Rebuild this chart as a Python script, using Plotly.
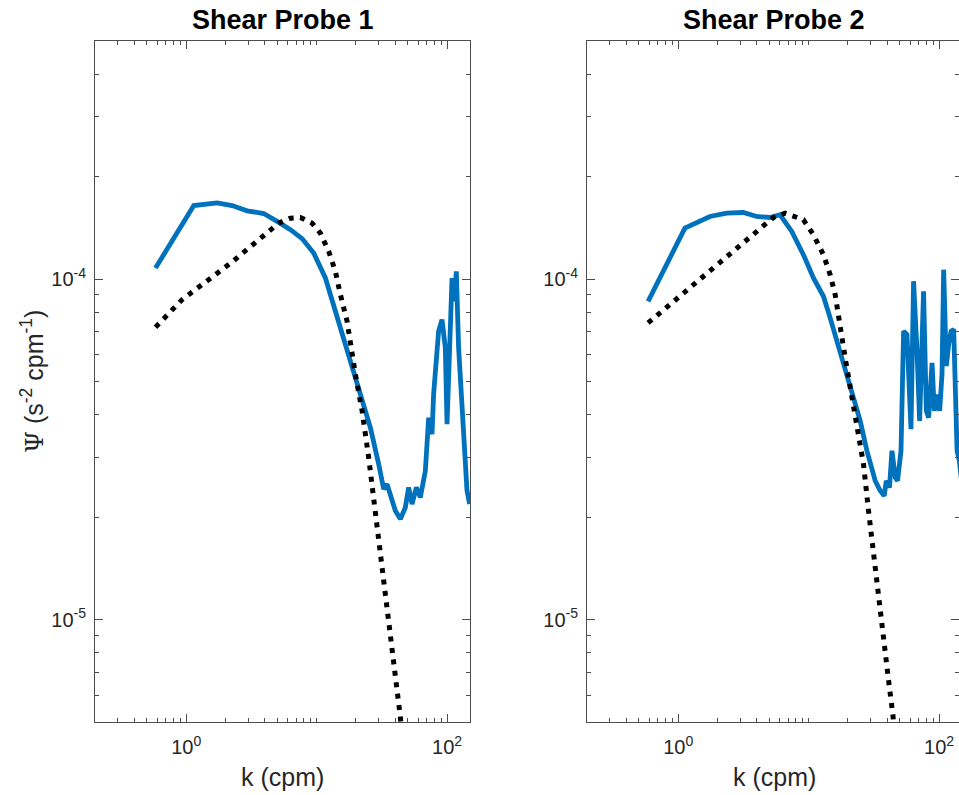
import math
import plotly.graph_objects as go

# ---------------- data ----------------
# Shear probe 1: measured spectrum
k_probe1 = [0.582, 1.144, 1.728, 2.25, 2.93, 3.93, 4.98, 6.30, 7.74, 9.50, 11.68, 13.52,
            16.13, 19.24, 22.33, 25.84, 29.92, 32.68, 34.69, 37.89, 40.16, 43.86, 47.9,
            50.8, 53.9, 58.2, 62.4, 68.2, 72.3, 76.7, 78.9, 83.8, 86.2, 91.5, 97.0, 100.0,
            102.9, 109.2, 113.8, 117.8, 122.7, 126.5, 134.1, 142.3, 149.0]
psi_probe1 = [1.077e-4, 1.643e-4, 1.673e-4, 1.643e-4, 1.586e-4, 1.557e-4, 1.476e-4, 1.396e-4,
              1.314e-4, 1.192e-4, 1.007e-4, 8.32e-5, 6.72e-5, 5.36e-5, 4.38e-5, 3.66e-5,
              2.86e-5, 2.415e-5, 2.497e-5, 2.262e-5, 2.087e-5, 1.972e-5, 2.133e-5, 2.442e-5,
              2.183e-5, 2.442e-5, 2.282e-5, 2.733e-5, 3.915e-5, 3.50e-5, 4.58e-5, 6.14e-5,
              7.03e-5, 7.60e-5, 6.28e-5, 3.745e-5, 5.25e-5, 1.007e-4, 8.60e-5, 1.053e-4,
              6.28e-5, 5.01e-5, 3.58e-5, 2.388e-5, 2.183e-5]

# Shear probe 1: Nasmyth fit
k_nasmyth1 = [0.582, 0.932, 2.185, 5.12, 6.30, 7.51, 9.24, 10.69, 12.38, 13.93, 15.22, 17.13,
              19.83, 22.33, 25.07, 28.22, 31.37, 34.69, 37.89, 43.86, 45.4]
psi_nasmyth1 = [7.22e-5, 8.70e-5, 1.112e-4, 1.459e-4, 1.509e-4, 1.516e-4, 1.459e-4, 1.364e-4,
                1.206e-4, 1.053e-4, 9.00e-5, 7.51e-5, 5.25e-5, 4.10e-5, 2.99e-5, 2.087e-5,
                1.512e-5, 1.112e-5, 8.11e-6, 5.17e-6, 4.42e-6]

# Shear probe 2: measured spectrum
k_probe2 = [0.588, 1.126, 1.752, 2.353, 3.157, 4.00, 5.06, 6.04, 7.43, 9.12, 10.89, 12.99,
            14.63, 17.99, 20.83, 24.86, 27.99, 32.42, 35.42, 38.0, 39.4, 41.7, 43.55, 46.2,
            48.1, 51.1, 53.5, 56.8, 60.95, 63.8, 67.8, 71.0, 76.1, 79.9, 83.2, 88.4, 92.0,
            97.6, 101.1, 105.4, 108.5, 113.8, 118.5, 123.7, 129.5, 137.5, 143.2, 148.0]
psi_probe2 = [8.60e-5, 1.411e-4, 1.526e-4, 1.561e-4, 1.568e-4, 1.526e-4, 1.516e-4, 1.544e-4,
              1.380e-4, 1.179e-4, 1.007e-4, 8.90e-5, 7.69e-5, 5.87e-5, 4.79e-5, 3.83e-5,
              3.13e-5, 2.554e-5, 2.388e-5, 2.308e-5, 2.554e-5, 2.442e-5, 3.13e-5, 2.611e-5,
              2.554e-5, 3.13e-5, 7.03e-5, 6.87e-5, 3.62e-5, 9.85e-5, 6.14e-5, 3.83e-5,
              9.20e-5, 4.10e-5, 3.915e-5, 5.67e-5, 4.10e-5, 4.58e-5, 4.10e-5, 5.25e-5,
              1.065e-4, 5.55e-5, 6.42e-5, 7.03e-5, 7.11e-5, 3.13e-5, 2.92e-5, 2.60e-5]

# Shear probe 2: Nasmyth fit
k_nasmyth2 = [0.588, 2.0, 5.37, 6.60, 9.12, 10.89, 12.99, 14.63, 15.98, 19.06, 21.47, 23.45,
              26.36, 28.80, 31.45, 34.37, 37.54, 41.02, 44.33, 45.77]
psi_nasmyth2 = [7.43e-5, 1.107e-4, 1.516e-4, 1.56e-4, 1.493e-4, 1.349e-4, 1.179e-4, 1.030e-4,
                9.00e-5, 5.87e-5, 4.48e-5, 3.66e-5, 2.86e-5, 2.087e-5, 1.540e-5, 1.137e-5,
                8.49e-6, 6.63e-6, 5.23e-6, 4.42e-6]

titles = ["Shear Probe 1", "Shear Probe 2"]
x_label = "k (cpm)"
y_label = '<span style="font-family:\'DejaVu Serif\', serif">Ψ</span> (s<sup>-2</sup> cpm<sup>-1</sup>)'

x_lim = [0.2, 150.0]
y_lim = [5e-6, 5e-4]
x_major = [1, 100]
x_major_text = ["10<sup>0</sup>", "10<sup>2</sup>"]
y_major = [1e-5, 1e-4]
y_major_text = ["10<sup>-5</sup>", "10<sup>-4</sup>"]
x_minor = [0.2, 0.3, 0.4, 0.5, 0.6, 0.7, 0.8, 0.9, 2, 3, 4, 5, 6, 7, 8, 9, 10,
           20, 30, 40, 50, 60, 70, 80, 90]
y_minor = [6e-6, 7e-6, 8e-6, 9e-6, 2e-5, 3e-5, 4e-5, 5e-5, 6e-5, 7e-5, 8e-5, 9e-5,
           2e-4, 3e-4, 4e-4, 5e-4]

# ---------------- layout geometry ----------------
W, H = 959, 795
FONT = "Liberation Sans, Arial, Helvetica, sans-serif"
BLUE = "#0072BD"
AX = "#4d4d4d"
TXT = "#262626"

left_px = (95, 470)
right_px = (587, 959)
top_px, bot_px = 41, 722

lx0, lx1 = math.log10(x_lim[0]), math.log10(x_lim[1])
px_per_dec = (left_px[1] - left_px[0]) / (lx1 - lx0)
rx1 = lx0 + (right_px[1] - right_px[0]) / px_per_dec

ydom = [1 - bot_px / H, 1 - top_px / H]

fig = go.Figure()

series = [
    (k_probe1, psi_probe1, k_nasmyth1, psi_nasmyth1, "x", "y"),
    (k_probe2, psi_probe2, k_nasmyth2, psi_nasmyth2, "x2", "y2"),
]
for kp, pp, kn, pn, xa, ya in series:
    fig.add_trace(go.Scatter(x=kp, y=pp, mode="lines", xaxis=xa, yaxis=ya,
                             line=dict(color=BLUE, width=4.8), showlegend=False))
    fig.add_trace(go.Scatter(x=kn, y=pn, mode="lines", xaxis=xa, yaxis=ya,
                             line=dict(color="black", width=5, dash="5px,6.5px"),
                             showlegend=False))


def xaxis_cfg(dom, rng):
    return dict(
        type="log", domain=dom, range=rng, showgrid=False, zeroline=False,
        showline=True, linecolor=AX, linewidth=1, mirror="ticks",
        ticks="inside", ticklen=8, tickwidth=1, tickcolor=AX,
        tickmode="array", tickvals=x_major, ticktext=x_major_text,
        ticklabelstandoff=7,
        tickfont=dict(family=FONT, size=20, color=TXT),
        minor=dict(ticks="inside", ticklen=4, tickwidth=1, tickcolor=AX,
                   tickmode="array", tickvals=x_minor, showgrid=False),
    )


def yaxis_cfg(anchor):
    return dict(
        type="log", domain=ydom, range=[math.log10(y_lim[0]), math.log10(y_lim[1])],
        anchor=anchor, showgrid=False, zeroline=False,
        showline=True, linecolor=AX, linewidth=1, mirror="ticks",
        ticks="inside", ticklen=8, tickwidth=1, tickcolor=AX,
        tickmode="array", tickvals=y_major, ticktext=y_major_text,
        ticklabelstandoff=4,
        tickfont=dict(family=FONT, size=20, color=TXT),
        minor=dict(ticks="inside", ticklen=4, tickwidth=1, tickcolor=AX,
                   tickmode="array", tickvals=y_minor, showgrid=False),
    )


xa1 = xaxis_cfg([left_px[0] / W, left_px[1] / W], [lx0, lx1])
xa1["anchor"] = "y"
xa2 = xaxis_cfg([right_px[0] / W, right_px[1] / W], [lx0, rx1])
xa2["anchor"] = "y2"

annotations = []
centers = [(left_px[0] + left_px[1]) / 2, 774]
for cx, t in zip(centers, titles):
    annotations.append(dict(text="<b>" + t + "</b>", x=cx / W, y=1 - 20 / H,
                            xref="paper", yref="paper", xanchor="center", yanchor="middle",
                            showarrow=False, font=dict(family=FONT, size=27, color="black")))
    annotations.append(dict(text=x_label, x=cx / W, y=1 - 777 / H,
                            xref="paper", yref="paper", xanchor="center", yanchor="middle",
                            showarrow=False, font=dict(family=FONT, size=25, color=TXT)))
annotations.append(dict(text=y_label, x=32 / W, y=1 - 382 / H, textangle=-90,
                        xref="paper", yref="paper", xanchor="center", yanchor="middle",
                        showarrow=False, font=dict(family=FONT, size=25, color=TXT)))

fig.update_layout(
    width=W, height=H, margin=dict(l=0, r=0, t=0, b=0),
    paper_bgcolor="white", plot_bgcolor="white",
    xaxis=xa1, yaxis=yaxis_cfg("x"),
    xaxis2=xa2, yaxis2=yaxis_cfg("x2"),
    annotations=annotations,
    showlegend=False,
)

fig.write_html("out.html")
